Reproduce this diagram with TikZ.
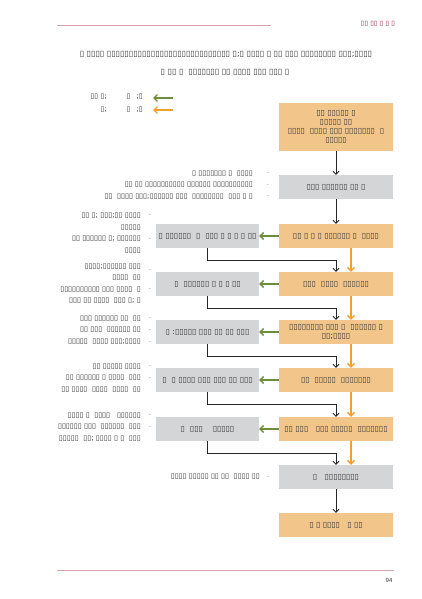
\documentclass[tikz,border=0pt]{standalone}
\usepackage{fontspec}
\setmainfont{DejaVu Sans}
\newfontfamily\numfont{Liberation Sans}
\usetikzlibrary{arrows.meta}
\definecolor{boxor}{HTML}{F2C68A}
\definecolor{boxgr}{HTML}{D4D5D7}
\definecolor{arrgr}{HTML}{6F8C3A}
\definecolor{arror}{HTML}{F0A030}
\definecolor{rulec}{HTML}{D3A3AD}
\definecolor{hdrc}{HTML}{8E1D3F}
\definecolor{txtc}{HTML}{333333}
\tikzset{
  obox/.style={fill=boxor, minimum width=114pt, minimum height=24pt, inner sep=1pt, align=center, text=txtc, font=\fontsize{7.8}{9}\selectfont},
  gbox/.style={obox, fill=boxgr},
  lbox/.style={gbox, minimum width=103pt},
  note/.style={anchor=east, align=right, inner sep=0pt, text=txtc, font=\fontsize{7.2}{11.5}\selectfont},
  bul/.style={inner sep=0pt, text=txtc, font=\fontsize{5.5}{6}\selectfont},
  blk/.style={-{Straight Barb[length=3pt,width=6pt]}, line width=0.8pt, black!85},
  org/.style={-{Straight Barb[length=3.5pt,width=7pt,line width=1.4pt]}, line width=1.6pt, arror},
  grn/.style={-{Straight Barb[length=3.5pt,width=7pt,line width=1.4pt]}, line width=1.6pt, arrgr},
}
\begin{document}
\begin{tikzpicture}[x=1pt,y=-1pt]
\useasboundingbox[fill=white] (0,0) rectangle (422,599);
% header
\coordinate (hl1) at (57,25); \coordinate (hl2) at (271,25);
\draw[rulec, line width=0.8pt] (hl1) -- (hl2);
\node[text=hdrc, font=\bfseries\fontsize{6.5}{7}\selectfont, inner sep=0] (hdr) at (378,24) {▯▯ ▯▯ ▯ ▯ ▯};
% title
\node[text=txtc, font=\fontsize{8}{10}\selectfont, inner sep=0] (t1) at (226,54) {▯ ▯▯▯▯ ▯▯▯▯▯▯▯▯▯▯▯▯▯▯▯▯▯▯▯▯▯▯▯▯▯▯▯▯ ▯;▯ ▯▯▯▯ ▯ ▯▯ ▯▯▯ ▯▯▯▯▯▯▯▯ ▯▯▯;▯▯▯▯};
\node[text=txtc, font=\fontsize{8}{10}\selectfont, inner sep=0] (t2) at (225,72) {▯ ▯▯ ▯~ ▯▯▯▯▯▯▯ ▯▯ ▯▯▯▯ ▯▯▯ ▯▯▯ ▯};
% legend
\node[note, font=\fontsize{7}{7}\selectfont] (lg1) at (143,97) {▯▯ ▯;\hspace{20pt}▯\hspace{6pt};▯};
\node[note, font=\fontsize{7}{7}\selectfont] (lg2) at (143,110) {▯;\hspace{20pt}▯\hspace{6pt};▯};
\coordinate (ga) at (173,98); \coordinate (gb) at (153,98);
\coordinate (oa) at (173,110); \coordinate (ob) at (153,110);
\draw[grn] (ga) -- (gb);
\draw[org] (oa) -- (ob);
% right column
\node[obox, minimum height=48pt] (b1) at (336,127) {▯▯ ▯▯▯▯▯ ▯\\▯▯▯▯▯ ▯▯\\▯▯▯▯~ ▯▯▯▯ ▯▯▯ ▯▯▯▯▯▯▯~ ▯\\▯▯▯▯▯};
\node[gbox] (b2) at (336,187) {▯▯▯ ▯▯▯▯▯▯ ▯▯ ▯};
\node[obox] (b3) at (336,236) {▯▯ ▯ ▯ ▯ ▯▯▯▯▯▯ ▯~ ▯▯▯▯};
\node[obox] (b4) at (336,284) {▯▯▯~ ▯▯▯▯~ ▯▯▯▯▯▯};
\node[obox] (b5) at (336,332) {▯▯▯▯▯▯▯▯ ▯▯▯ ▯~ ▯▯▯▯▯▯ ▯\\▯▯;▯▯▯▯};
\node[obox] (b6) at (336,380) {▯▯~ ▯▯▯▯▯~ ▯▯▯▯▯▯▯};
\node[obox] (b7) at (336,429) {▯▯ ▯▯▯~~ ▯▯▯ ▯▯▯▯▯~ ▯▯▯▯▯▯▯};
\node[gbox] (b8) at (336,477) {▯~~ ▯▯▯▯▯▯▯▯};
\node[obox] (b9) at (336,525) {▯ ▯ ▯▯▯▯~~ ▯ ▯▯};
% left column
\node[lbox] (l3) at (207.5,236) {▯ ▯▯▯▯▯▯~ ▯~ ▯▯▯ ▯ ▯ ▯ ▯ ▯▯};
\node[lbox] (l4) at (207.5,284) {▯~ ▯▯▯▯▯▯ ▯ ▯ ▯ ▯▯};
\node[lbox] (l5) at (207.5,332) {▯ :▯▯▯▯▯ ▯▯▯ ▯▯ ▯▯ ▯▯▯};
\node[lbox] (l6) at (207.5,380) {▯~ ▯ ▯▯▯▯ ▯▯▯ ▯▯▯ ▯▯ ▯▯▯};
\node[lbox] (l7) at (207.5,429) {▯~ ▯▯▯~~~ ▯▯▯▯▯};
% notes
\node[note] (n2) at (253,185) {▯ ▯▯▯▯▯▯▯ ▯~ ▯▯▯▯\\▯▯ ▯▯ ▯▯▯▯▯▯▯▯▯▯ ▯▯▯▯▯▯ ▯▯▯▯▯▯▯▯▯▯\\▯▯~ ▯▯▯▯ ▯▯▯;▯▯▯▯▯▯ ▯▯▯~ ▯▯▯▯▯▯▯▯~ ▯▯▯ ▯ ▯};
\node[note] (n3) at (141,233) {▯▯ ▯; ▯▯▯;▯▯ ▯▯▯▯\\▯▯▯▯▯\\▯▯ ▯▯▯▯▯▯ ▯; ▯▯▯▯▯▯\\▯▯▯▯};
\node[note] (n4) at (141,283.5) {▯▯▯▯;▯▯▯▯▯▯ ▯▯▯\\▯▯▯▯~ ▯▯\\▯▯▯▯▯▯▯▯▯▯ ▯▯▯ ▯▯▯▯~ ▯\\▯▯▯ ▯▯ ▯▯▯▯~ ▯▯▯ ▯; ▯};
\node[note] (n5) at (141,330) {▯▯▯ ▯▯▯▯▯▯ ▯▯~ ▯▯\\▯▯ ▯▯▯~ ▯▯▯▯▯▯ ▯▯\\▯▯▯▯▯~ ▯▯▯▯ ▯▯▯;▯▯▯▯};
\node[note] (n6) at (141,378) {▯▯ ▯▯▯▯▯ ▯▯▯▯\\▯▯ ▯▯▯▯▯▯ ▯ ▯▯▯▯~ ▯▯▯\\▯▯ ▯▯▯▯~ ▯▯▯▯~ ▯▯▯▯~ ▯▯};
\node[note] (n7) at (141,427) {▯▯▯▯ ▯~ ▯▯▯▯~~ ▯▯▯▯▯▯\hspace{6pt}\\▯▯▯▯▯▯ ▯▯▯~ ▯▯▯▯▯▯~ ▯▯▯\\▯▯▯▯▯~ ▯▯; ▯▯▯▯ ▯ ▯~ ▯▯▯};
\node[note] (n8) at (260,477) {▯▯▯▯ ▯▯▯▯▯ ▯▯ ▯▯~ ▯▯▯▯ ▯▯};
% bullets
\node[bul] (d2a) at (268,173) {.};
\node[bul] (d2b) at (268,185) {.};
\node[bul] (d2c) at (268,196) {.};
\node[bul] (d3a) at (150,215) {.};
\node[bul] (d3b) at (150,239) {.};
\node[bul] (d4a) at (150,270) {.};
\node[bul] (d4b) at (150,289) {.};
\node[bul] (d5a) at (150,318) {.};
\node[bul] (d5b) at (150,330) {.};
\node[bul] (d5c) at (150,342) {.};
\node[bul] (d6a) at (150,366) {.};
\node[bul] (d6b) at (150,378) {.};
\node[bul] (d7a) at (150,415) {.};
\node[bul] (d7b) at (150,427) {.};
\node[bul] (d8a) at (268,477) {.};
% connectors
\draw[blk] (b1) -- (b2);
\draw[blk] (b2) -- (b3);
\draw[org] ([xshift=15pt]b3.south) -- ([xshift=15pt]b4.north);
\draw[org] ([xshift=15pt]b4.south) -- ([xshift=15pt]b5.north);
\draw[org] ([xshift=15pt]b5.south) -- ([xshift=15pt]b6.north);
\draw[org] ([xshift=15pt]b6.south) -- ([xshift=15pt]b7.north);
\draw[org] ([xshift=15pt]b7.south) -- ([xshift=15pt]b8.north);
\draw[blk] (l3.south) -- ++(0,12) -| (b4.north);
\draw[blk] (l4.south) -- ++(0,12) -| (b5.north);
\draw[blk] (l5.south) -- ++(0,12) -| (b6.north);
\draw[blk] (l6.south) -- ++(0,12) -| (b7.north);
\draw[blk] (l7.south) -- ++(0,12) -| (b8.north);
\draw[blk] (b8) -- (b9);
\draw[grn] (b3.west) -- (l3.east);
\draw[grn] (b4.west) -- (l4.east);
\draw[grn] (b5.west) -- (l5.east);
\draw[grn] (b6.west) -- (l6.east);
\draw[grn] (b7.west) -- (l7.east);
% footer
\coordinate (fl1) at (57,570); \coordinate (fl2) at (394,570);
\draw[rulec, line width=0.8pt] (fl1) -- (fl2);
\node[font=\numfont\fontsize{6}{7}\selectfont, text=txtc, inner sep=0] (pg) at (389,580) {94};
\end{tikzpicture}
\end{document}
